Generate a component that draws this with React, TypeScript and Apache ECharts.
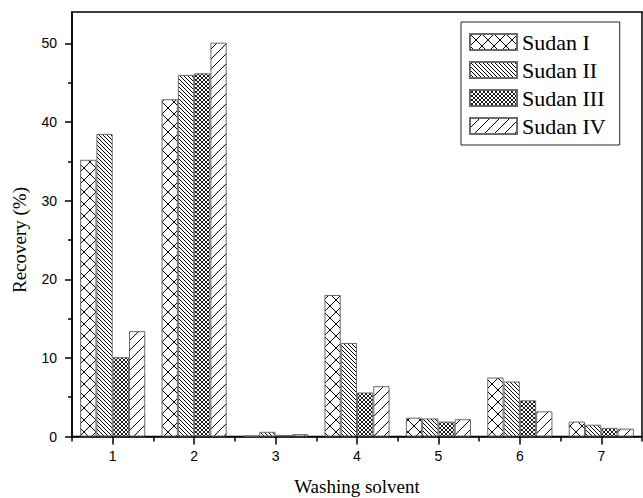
import React, { useEffect, useRef } from "react";
import * as echarts from "echarts";

const categories = ["1", "2", "3", "4", "5", "6", "7"];
const seriesNames = ["Sudan I", "Sudan II", "Sudan III", "Sudan IV"];
const sudanI = [35.2, 42.9, 0.1, 18.0, 2.4, 7.5, 1.9];
const sudanII = [38.5, 46.0, 0.6, 11.9, 2.3, 7.0, 1.5];
const sudanIII = [10.1, 46.2, 0.2, 5.6, 1.9, 4.6, 1.1];
const sudanIV = [13.4, 50.1, 0.3, 6.4, 2.2, 3.2, 1.0];
const majorTicks = [0, 10, 20, 30, 40, 50];
const minorTicks = [5, 15, 25, 35, 45];

function makePattern(size: number, back: boolean, fwd: boolean, lw: number) {
  const c = document.createElement("canvas");
  c.width = size;
  c.height = size;
  const ctx = c.getContext("2d")!;
  ctx.fillStyle = "#fff";
  ctx.fillRect(0, 0, size, size);
  ctx.strokeStyle = "#000";
  ctx.lineWidth = lw;
  for (let k = -1; k <= 1; k++) {
    if (back) {
      ctx.beginPath();
      ctx.moveTo(k * size, 0);
      ctx.lineTo(k * size + size, size);
      ctx.stroke();
    }
    if (fwd) {
      ctx.beginPath();
      ctx.moveTo(k * size, size);
      ctx.lineTo(k * size + size, 0);
      ctx.stroke();
    }
  }
  return {
    image: c.toDataURL(),
    repeat: "repeat",
    imageWidth: size,
    imageHeight: size,
  } as any;
}

export default function App() {
  const ref = useRef<HTMLDivElement>(null);
  useEffect(() => {
    if (!ref.current) return;
    const chart = echarts.init(ref.current, null, { renderer: "svg" });
    const patterns = [
      makePattern(12, true, true, 1),
      makePattern(4, true, false, 1),
      makePattern(4, true, true, 0.9),
      makePattern(10, false, true, 1),
    ];
    const dataSets = [sudanI, sudanII, sudanIII, sudanIV];
    const sans = "Liberation Sans";
    const serif = "Liberation Serif";
    chart.setOption({
      animation: false,
      backgroundColor: "#fff",
      grid: {
        left: 72,
        right: 1,
        top: 12,
        bottom: 61.5,
        containLabel: false,
        outerBoundsMode: "none",
        show: true,
        borderColor: "#000",
        borderWidth: 1.5,
        backgroundColor: "transparent",
      },
      legend: {
        orient: "vertical",
        left: 461,
        top: 22,
        data: seriesNames,
        icon: "rect",
        itemWidth: 47,
        itemHeight: 16,
        itemGap: 6,
        padding: [9, 14, 8, 8],
        borderColor: "#222",
        borderWidth: 1,
        textStyle: { fontFamily: serif, fontSize: 22, color: "#000" },
      },
      xAxis: [
        {
          type: "category",
          data: categories,
          position: "bottom",
          boundaryGap: true,
          axisLine: { show: true, lineStyle: { color: "#000", width: 1.5 } },
          axisTick: {
            show: true,
            alignWithLabel: true,
            inside: false,
            length: 8,
            lineStyle: { color: "#000", width: 1.5 },
          },
          axisLabel: { fontFamily: sans, fontSize: 14, color: "#000", margin: 12 },
          name: "Washing solvent",
          nameLocation: "middle",
          nameGap: 40,
          nameTextStyle: { fontFamily: serif, fontSize: 19, color: "#000" },
        },
        {
          type: "category",
          data: categories,
          position: "bottom",
          boundaryGap: true,
          axisLine: { show: false },
          axisTick: {
            show: true,
            alignWithLabel: false,
            length: 5,
            lineStyle: { color: "#000", width: 1.5 },
          },
          axisLabel: { show: false },
        },
      ],
      yAxis: [
        {
          type: "value",
          min: 0,
          max: 54,
          position: "left",
          splitLine: { show: false },
          axisLine: { show: true, lineStyle: { color: "#000", width: 1.5 } },
          axisTick: {
            show: true,
            customValues: majorTicks,
            length: 7,
            lineStyle: { color: "#000", width: 1.5 },
          },
          axisLabel: {
            customValues: majorTicks,
            fontFamily: sans,
            fontSize: 14,
            color: "#000",
            margin: 15,
          },
        },
        {
          type: "value",
          min: 0,
          max: 54,
          position: "left",
          splitLine: { show: false },
          axisLine: { show: false },
          axisTick: {
            show: true,
            customValues: minorTicks,
            length: 4,
            lineStyle: { color: "#000", width: 1.5 },
          },
          axisLabel: { show: false },
        },
      ],
      graphic: [
        {
          type: "text",
          x: 19,
          y: 240,
          rotation: Math.PI / 2,
          style: {
            text: "Recovery (%)",
            font: "19px 'Liberation Serif'",
            fontFamily: serif,
            fontSize: 19,
            fill: "#000",
            align: "center",
            verticalAlign: "middle",
          },
        },
      ],
      series: seriesNames.map((name, i) => ({
        name,
        type: "bar",
        xAxisIndex: 0,
        yAxisIndex: 0,
        data: dataSets[i],
        barGap: "0%",
        barCategoryGap: "20%",
        itemStyle: {
          color: patterns[i],
          borderColor: "#6a6a6a",
          borderWidth: 1,
        },
      })),
    });
    return () => chart.dispose();
  }, []);
  return (
    <div
      ref={ref}
      style={{ position: "fixed", left: 0, top: 0, width: 643, height: 498 }}
    />
  );
}
